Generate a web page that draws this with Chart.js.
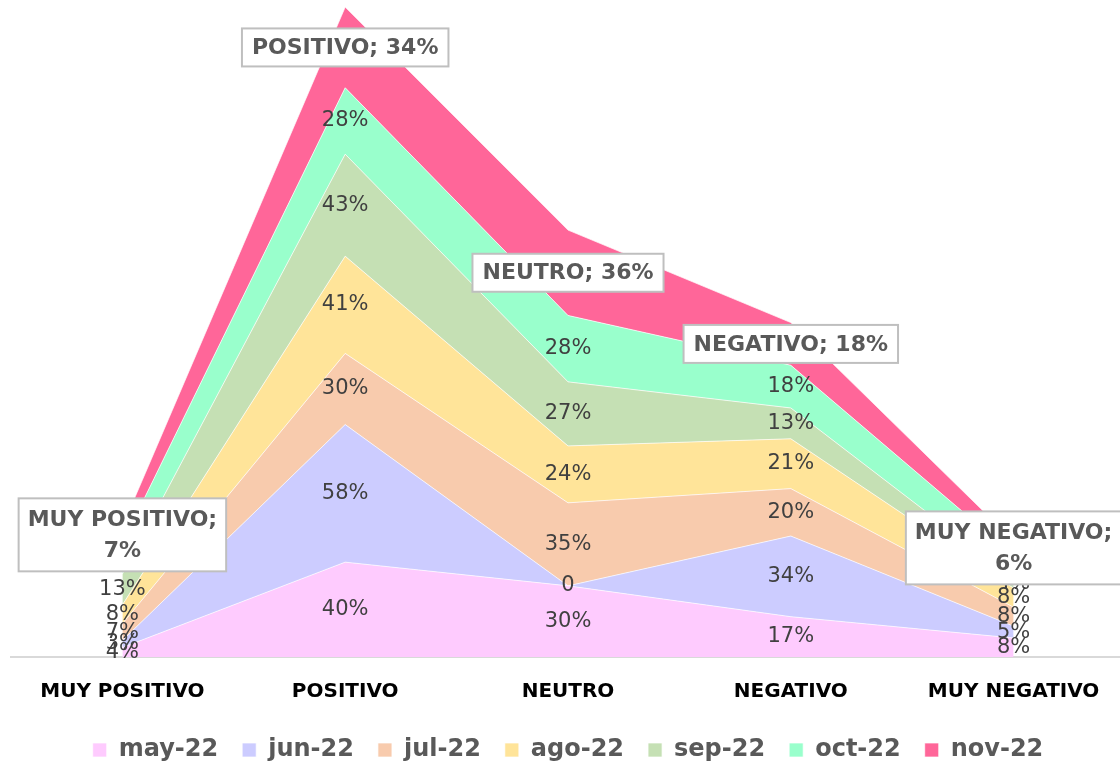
<!DOCTYPE html>
<html>
<head>
<meta charset="utf-8">
<script src="https://cdn.jsdelivr.net/npm/chart.js@4.4.1/dist/chart.umd.min.js"></script>
<style>
  html, body { margin: 0; padding: 0; background: #fff; overflow: hidden; }
  #wrap { width: 1125px; height: 772px; position: relative; }
</style>
</head>
<body>
<div id="wrap"><canvas id="myChart"></canvas></div>
<script>
// categories and monthly series (percent)
let categories = ['MUY POSITIVO', 'POSITIVO', 'NEUTRO', 'NEGATIVO', 'MUY NEGATIVO'];
let may22 = [4, 40, 30, 17, 8];
let jun22 = [3, 58, 0, 34, 5];
let jul22 = [7, 30, 35, 20, 8];
let ago22 = [8, 41, 24, 21, 8];
let sep22 = [13, 43, 27, 13, 4];
let oct22 = [13, 28, 28, 18, 10];
let nov22 = [7, 34, 36, 18, 6];

let seriesNames = ['may-22', 'jun-22', 'jul-22', 'ago-22', 'sep-22', 'oct-22', 'nov-22'];
let seriesData = [may22, jun22, jul22, ago22, sep22, oct22, nov22];
let seriesColors = ['#FECBFE', '#CCCCFF', '#F8CBAD', '#FFE499', '#C5E0B4', '#99FFCC', '#FF6699'];

const FONT = "'DejaVu Sans', sans-serif";

// labels centered in every band; the last series gets a boxed "CATEGORY; x%" label
const bandLabels = {
    id: 'bandLabels',
    afterDatasetsDraw(chart) {
        const ctx = chart.ctx;
        const yScale = chart.scales.y;
        const zero = yScale.getPixelForValue(0);
        const last = chart.data.datasets.length - 1;
        ctx.save();
        ctx.textAlign = 'center';
        ctx.textBaseline = 'middle';
        chart.data.datasets.forEach((ds, i) => {
            const meta = chart.getDatasetMeta(i);
            const below = i > 0 ? chart.getDatasetMeta(i - 1) : null;
            meta.data.forEach((pt, j) => {
                const base = below ? below.data[j].y : zero;
                const x = pt.x;
                const y = (pt.y + base) / 2;
                const v = ds.data[j];
                const txt = v === 0 ? '0' : v + '%';
                if (i < last) {
                    ctx.font = '21px ' + FONT;
                    ctx.fillStyle = '#404040';
                    ctx.fillText(txt, x, y);
                    return;
                }
                ctx.font = 'bold 22px ' + FONT;
                let lines = [chart.data.labels[j] + '; ' + txt];
                let w = ctx.measureText(lines[0]).width + 20;
                let h = 38;
                const lh = 31;
                if (x - w / 2 < 20 || x + w / 2 > 1100) {
                    lines = [chart.data.labels[j] + ';', txt];
                    w = ctx.measureText(lines[0]).width + 18;
                    h = 73;
                }
                ctx.fillStyle = '#fff';
                ctx.fillRect(x - w / 2, y - h / 2, w, h);
                ctx.strokeStyle = '#BFBFBF';
                ctx.lineWidth = 2;
                ctx.strokeRect(x - w / 2, y - h / 2, w, h);
                ctx.fillStyle = '#595959';
                lines.forEach((ln, k) => {
                    ctx.fillText(ln, x, y - (lines.length - 1) * lh / 2 + k * lh + 1);
                });
            });
        });
        ctx.restore();
    }
};

let myChart = document.getElementById('myChart').getContext('2d');
let areaChart = new Chart(myChart, {
    type: 'line',
    data: {
        labels: categories,
        datasets: seriesData.map((d, i) => ({
            label: seriesNames[i],
            data: d,
            backgroundColor: seriesColors[i],
            borderColor: 'rgba(255,255,255,0.7)',
            borderWidth: 1,
            fill: i === 0 ? 'origin' : '-1',
            pointRadius: 0,
            tension: 0
        }))
    },
    options: {
        responsive: true,
        maintainAspectRatio: false,
        animation: false,
        layout: { padding: { left: 11, right: 0, top: 0, bottom: 0 } },
        plugins: {
            legend: {
                position: 'bottom',
                labels: {
                    boxWidth: 14,
                    boxHeight: 14,
                    padding: 24,
                    color: '#595959',
                    font: { family: FONT, size: 24, weight: 'bold' }
                }
            },
            tooltip: { enabled: false }
        },
        scales: {
            x: {
                offset: true,
                grid: { display: false, drawTicks: false },
                border: { color: '#D9D9D9', width: 2 },
                ticks: {
                    color: '#000',
                    padding: 23,
                    font: { family: FONT, size: 20, weight: 'bold' }
                },
                afterFit(scale) { scale.height = 57; }
            },
            y: {
                display: false,
                stacked: true,
                min: 0,
                max: 277
            }
        }
    },
    plugins: [bandLabels]
});
</script>
</body>
</html>
